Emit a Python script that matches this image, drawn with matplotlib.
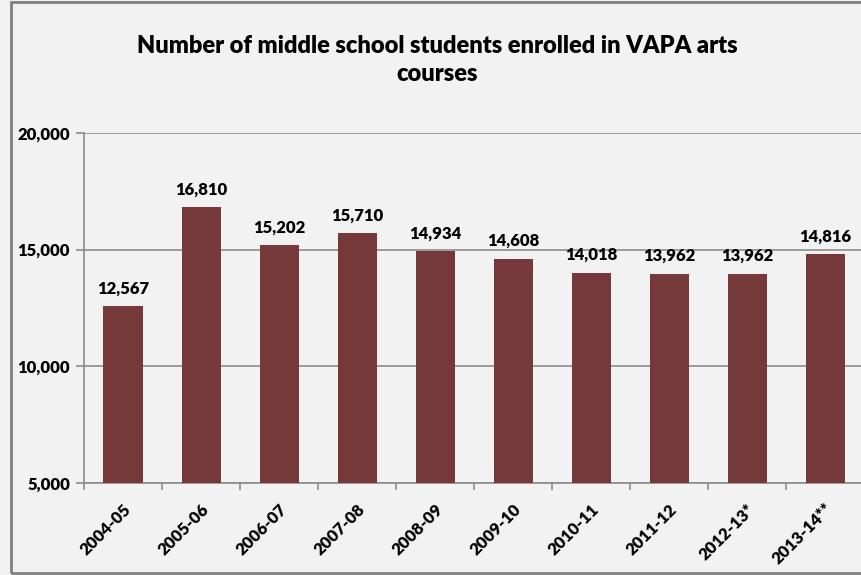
import matplotlib.pyplot as plt
from matplotlib.patches import Rectangle
from matplotlib.ticker import FuncFormatter

years = ['2004-05', '2005-06', '2006-07', '2007-08', '2008-09',
         '2009-10', '2010-11', '2011-12', '2012-13*', '2013-14**']
students = [12567, 16810, 15202, 15710, 14934, 14608, 14018, 13962, 13962, 14816]

BG = '#F2F2F2'
BAR = '#76393A'
GRID = '#8C8C8C'

plt.rcParams['font.family'] = ['Lato', 'DejaVu Sans']
plt.rcParams['font.weight'] = 'heavy'

fig = plt.figure(figsize=(8.62, 5.75), dpi=100)
fig.patch.set_facecolor(BG)

# outer chart border (right side runs off the picture)
fig.patches.append(Rectangle((11 / 862, 2 / 575), 1.0, 571 / 575,
                             transform=fig.transFigure, fill=False,
                             edgecolor='#808080', linewidth=2))

ax = fig.add_axes([84 / 862, 92 / 575, 780 / 862, 350 / 575])
ax.set_facecolor(BG)

x = list(range(len(years)))
ax.bar(x, students, width=0.5, color=BAR, zorder=3)

for xi, v in zip(x, students):
    ax.annotate(f'{v:,}', (xi, v), xytext=(0, 7), textcoords='offset points',
                ha='center', va='bottom', fontsize=12, fontweight='heavy')

ax.set_ylim(5000, 20000)
ax.set_xlim(-0.5, len(years) - 0.5)
ax.set_yticks([5000, 10000, 15000, 20000])
ax.yaxis.set_major_formatter(FuncFormatter(lambda v, p: f'{int(v):,}'))
ax.yaxis.grid(True, color=GRID, linewidth=1.2, zorder=0)

# ticks at category edges, labels at centres
ax.set_xticks([i - 0.5 for i in range(len(years) + 1)])
ax.set_xticklabels([])
ax.set_xticks(x, minor=True)
ax.set_xticklabels(years, minor=True, rotation=45, ha='right',
                   rotation_mode='anchor', fontsize=12, fontweight='heavy')
ax.tick_params(axis='x', which='major', length=5, color=GRID, width=1.2)
ax.tick_params(axis='x', which='minor', length=0, pad=13)
ax.tick_params(axis='y', length=6, color=GRID, width=1.2, labelsize=12, pad=4)
for lbl in ax.get_yticklabels():
    lbl.set_fontweight('heavy')

for side in ['top', 'right']:
    ax.spines[side].set_visible(False)
for side in ['left', 'bottom']:
    ax.spines[side].set_color(GRID)
    ax.spines[side].set_linewidth(1.2)

fig.text(437 / 862, 1 - 60 / 575,
         'Number of middle school students enrolled in VAPA arts\ncourses',
         ha='center', va='center', fontsize=17, fontweight='heavy',
         linespacing=1.3)

fig.savefig('out.png', dpi=100, facecolor=BG)
